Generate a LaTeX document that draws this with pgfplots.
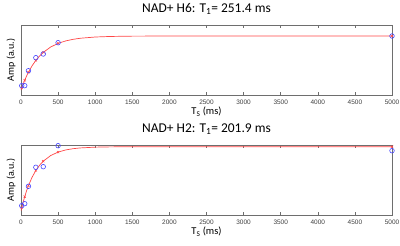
\documentclass[border=0pt]{standalone}
\usepackage{fontspec}
\setmainfont{Carlito}
\newfontfamily\tickfont{Liberation Sans}
\usepackage{pgfplots}
\pgfplotsset{compat=1.18}
\definecolor{fitred}{RGB}{255,70,70}
\definecolor{ptblue}{RGB}{70,70,255}
\definecolor{axgray}{RGB}{110,110,110}
\pgfplotsset{
  myax/.style={
    width=371bp, height=70bp, scale only axis,
    xmin=0, xmax=5000, ymin=0, ymax=70,
    xtick={0,500,...,5000},
    ytick=\empty,
    axis line style={axgray, line width=0.6bp},
    every tick/.style={axgray, line width=0.5bp},
    major tick length=3bp,
    tick align=inside,
    scaled x ticks=false,
    xticklabel style={font=\tickfont\fontsize{6.5}{7}\selectfont, text=black!75, yshift=-1bp},
    /pgf/number format/assume math mode=true,
    /pgf/number format/set thousands separator={},
    title style={font=\fontsize{13.5}{15}\selectfont, at={(0.5,1)}, anchor=south, yshift=1bp},
    xlabel style={font=\fontsize{10.5}{12}\selectfont, yshift=4bp},
    ylabel style={font=\fontsize{10}{12}\selectfont, at={(axis description cs:0,0.5)}, anchor=south, yshift=2bp},
    xlabel={T\textsubscript{S} (ms)},
    ylabel={Amp (a.u.)},
  },
  fitline/.style={fitred, line width=0.7bp, no marks},
  fitx/.style={only marks, mark=x, mark size=1.6bp, mark options={fitred, line width=0.5bp}},
  pts/.style={only marks, mark=o, mark size=2.3bp, mark options={ptblue, line width=0.6bp}},
}
\begin{document}
\begin{tikzpicture}
\useasboundingbox (-21bp,-151bp) rectangle (379bp,95bp);
\begin{axis}[myax, at={(0,0)}, title={NAD+ H6: T\textsubscript{1}= 251.4 ms}]
\addplot[fitline] coordinates {(0,5) (25,10.11) (50,14.75) (75,18.93) (100,22.72) (150,29.27) (200,34.63) (250,39.03) (300,42.63) (400,48.0) (500,51.61) (600,54.04) (700,55.66) (800,56.76) (1000,57.99) (1200,58.54) (1500,58.86) (2000,58.98) (3000,59) (5000,59)};
\addplot[fitx] coordinates {(10,7.1) (50,14.75) (100,22.72) (200,34.63) (300,42.63) (500,51.61) (5000,59)};
\addplot[pts] coordinates {(10,9.3) (50,9.3) (100,24.3) (200,37.3) (300,41) (500,52.3) (5000,59)};
\end{axis}
\begin{axis}[myax, at={(0,-120bp)}, title={NAD+ H2: T\textsubscript{1}= 201.9 ms}]
\addplot[fitline] coordinates {(0,4.3) (25,11.76) (50,18.34) (75,24.16) (100,29.3) (150,37.85) (200,44.53) (250,49.75) (300,53.82) (400,59.47) (500,62.92) (600,65.02) (700,66.3) (800,67.08) (1000,67.85) (1200,68.13) (1500,68.26) (2000,68.3) (5000,68.3)};
\addplot[fitx] coordinates {(10,7.39) (50,18.34) (100,29.3) (200,44.53) (300,53.82) (500,62.92) (5000,68.3)};
\addplot[pts] coordinates {(10,9.3) (50,11.3) (100,28.7) (200,47.7) (300,48.3) (500,69.3) (5000,64.3)};
\end{axis}
\end{tikzpicture}
\end{document}
